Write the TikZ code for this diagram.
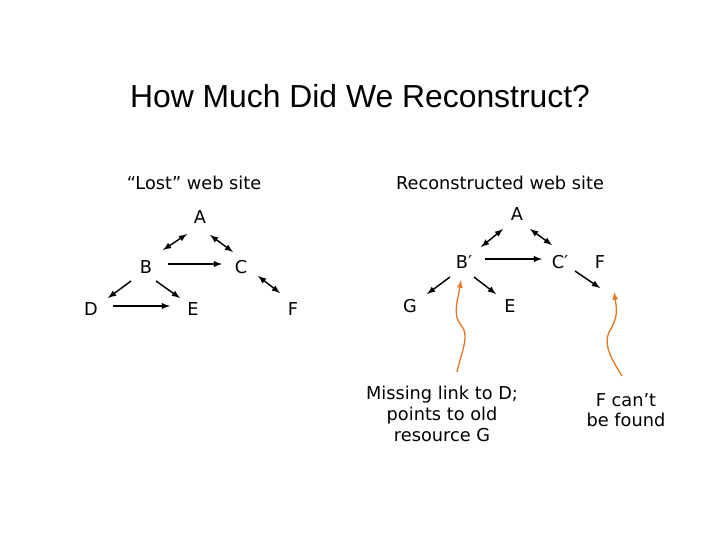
\documentclass[tikz,border=0pt]{standalone}
\usepackage{fontspec}
\setmainfont{DejaVu Sans}
\newfontfamily\titlefont{Liberation Sans}
\begin{document}
\begin{tikzpicture}[x=0.75pt,y=-0.75pt,
  lbl/.style={font=\fontsize{13.3}{15.5}\selectfont,inner sep=1pt},
  ar/.style={-latex,line width=1.1pt},
  dar/.style={latex-latex,line width=1.1pt},
  oar/.style={-latex,line width=1pt,draw={rgb,255:red,230;green,120;blue,40}}]
\useasboundingbox (0,0) rectangle (720,540);
\node[font=\titlefont\fontsize{23.9}{28}\selectfont] (t) at (360,96) {How Much Did We Reconstruct?};
\node[lbl] (l1) at (194,183) {“Lost” web site};
\node[lbl] (l2) at (500,183) {Reconstructed web site};
\node[lbl] (A) at (200,217) {A};
\node[lbl] (B) at (146,267) {B};
\node[lbl] (C) at (241,267) {C};
\node[lbl] (D) at (91,309) {D};
\node[lbl] (E) at (193,309) {E};
\node[lbl] (F) at (293,309) {F};
\draw[dar] (163,250) -- (187,234);
\draw[dar] (210,235) -- (233,252);
\draw[ar] (168,264) -- (222,264);
\draw[ar] (131,281) -- (108,298);
\draw[ar] (156,281) -- (180,298);
\draw[dar] (258,276) -- (280,293);
\draw[ar] (113,306) -- (170,306);
\node[lbl] (A2) at (517,214) {A};
\node[lbl] (B2) at (464,262) {B′};
\node[lbl] (C2) at (560,262) {C′};
\node[lbl] (F2) at (600,262) {F};
\node[lbl] (G2) at (410,306) {G};
\node[lbl] (E2) at (510,306) {E};
\draw[dar] (481,247) -- (503,229);
\draw[dar] (530,229) -- (552,245);
\draw[ar] (485,259) -- (542,259);
\draw[ar] (450,277) -- (427,294);
\draw[ar] (474,277) -- (496,294);
\draw[ar] (575,271) -- (600,288);
\node[lbl,align=center] (m) at (442,414) {Missing link to D;\\points to old\\resource G};
\node[lbl,align=center] (fc) at (626,410) {F can’t\\be found};
\draw[oar] (457,372) .. controls (462,350) and (470,335) .. (461,325) .. controls (452,315) and (458,300) .. (461,280);
\draw[oar] (622,376) .. controls (612,360) and (603,345) .. (609,332) .. controls (618,318) and (617,310) .. (614,292);
\end{tikzpicture}
\end{document}
